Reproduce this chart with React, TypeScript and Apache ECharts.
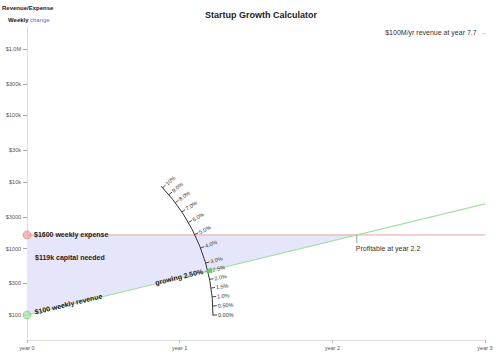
import React, { useEffect, useRef } from 'react';
import * as echarts from 'echarts';

const FONT = '"Liberation Sans", Arial, Helvetica, sans-serif';

// ---- data ----
const yearTicks = [0, 1, 2, 3];
const yearLabels = ['year 0', 'year 1', 'year 2', 'year 3'];
const yTickValues = [100, 300, 1000, 3000, 10000, 30000, 100000, 300000, 1000000];
const yTickLabels = ['$100', '$300', '$1000', '$3000', '$10k', '$30k', '$100k', '$300k', '$1.0M'];
const yRange = [42.1, 2140000];
const weeklyExpense = 1600;
const startRevenue = 100;
const weeklyGrowth = 0.025;
const weeksPerYear = 52;
const revenueLine = [[0, 100], [3, 4700]];
const expenseLine = [[0, 1600], [3, 1600]];
const profitYear = 2.16;
const capitalArea = [[0, 100], [2.16, 1600], [0, 1600]];
const growthRates = [0, 0.005, 0.01, 0.015, 0.02, 0.025, 0.03, 0.04, 0.05, 0.06, 0.07, 0.08, 0.09, 0.1];
const growthLabels = ['0.00%', '0.50%', '1.0%', '1.5%', '2.0%', '2.5%', '3.0%', '4.0%', '5.0%', '6.0%', '7.0%', '8.0%', '9.0%', '10%'];

const lg = (v: number) => Math.log10(v);

function buildOption(): any {
  const yCustom = yTickValues.map(lg);
  return {
    animation: false,
    textStyle: { fontFamily: FONT },
    title: {
      text: 'Startup Growth Calculator',
      left: 200,
      top: 5,
      textStyle: { fontSize: 9, fontWeight: 'bold', color: '#222', fontFamily: FONT },
    },
    grid: { left: 27, right: 15, top: 27, bottom: 16, containLabel: false },
    xAxis: {
      type: 'value',
      min: 0,
      max: 3,
      interval: 1,
      axisLine: { show: true, onZero: false, lineStyle: { color: '#dcdcdc', width: 1 } },
      axisTick: { show: true, length: 3, lineStyle: { color: '#bbb' } },
      splitLine: { show: false },
      axisLabel: {
        fontSize: 5.5,
        color: '#555',
        margin: 5,
        fontFamily: FONT,
        formatter: (v: number) => {
          const i = yearTicks.indexOf(Math.round(v));
          return i >= 0 ? yearLabels[i] : '';
        },
      },
    },
    yAxis: {
      type: 'value',
      min: lg(yRange[0]),
      max: lg(yRange[1]),
      axisLine: { show: true, onZero: false, lineStyle: { color: '#dcdcdc', width: 1 } },
      axisTick: { show: true, length: 4, customValues: yCustom, lineStyle: { color: '#aaa' } },
      splitLine: { show: false },
      axisLabel: {
        fontSize: 5.5,
        color: '#555',
        margin: 6,
        fontFamily: FONT,
        customValues: yCustom,
        formatter: (v: number) => {
          const i = yCustom.findIndex((c) => Math.abs(c - v) < 1e-6);
          return i >= 0 ? yTickLabels[i] : '';
        },
      },
    },
    graphic: [
      {
        type: 'text',
        left: 2,
        top: 5,
        style: { text: 'Revenue/Expense', fontSize: 6, fontWeight: 'bold', fill: '#222', fontFamily: FONT },
      },
      {
        type: 'text',
        left: 8,
        top: 17,
        style: { text: 'Weekly', fontSize: 6, fontWeight: 'bold', fill: '#222', fontFamily: FONT },
      },
      {
        type: 'text',
        left: 30,
        top: 17,
        style: { text: 'change', fontSize: 6, fill: '#6a5fdc', fontFamily: FONT },
      },
      {
        type: 'text',
        right: 13,
        top: 26,
        style: {
          text: '{a|$100M/yr revenue at year 7.7} {b|→}',
          fontFamily: FONT,
          rich: {
            a: { fontSize: 7, fill: '#333', fontFamily: FONT },
            b: { fontSize: 7, fill: '#aaa', fontFamily: FONT },
          },
        },
      },
    ],
    series: [
      {
        type: 'custom',
        name: 'capital',
        z: 1,
        silent: true,
        data: [[0, lg(startRevenue)]],
        renderItem: (_p: any, api: any) => {
          const pts = capitalArea.map((d) => api.coord([d[0], lg(d[1])]));
          return { type: 'polygon', shape: { points: pts }, style: { fill: '#e6e6fb', stroke: 'none' } };
        },
      },
      {
        type: 'line',
        name: 'expense',
        z: 2,
        symbol: 'none',
        data: expenseLine.map((d) => [d[0], lg(d[1])]),
        lineStyle: { color: '#e8a4a4', width: 1 },
      },
      {
        type: 'line',
        name: 'revenue',
        z: 3,
        symbol: 'none',
        data: revenueLine.map((d) => [d[0], lg(d[1])]),
        lineStyle: { color: '#a2e0a2', width: 1.2 },
      },
      {
        type: 'scatter',
        z: 4,
        clip: false,
        symbolSize: 8,
        data: [
          { value: [0, lg(weeklyExpense)], itemStyle: { color: '#f2a9a9', borderColor: '#e07c7c', borderWidth: 0.8 } },
          { value: [0, lg(startRevenue)], itemStyle: { color: '#abe6ab', borderColor: '#76c776', borderWidth: 0.8 } },
        ],
      },
      {
        type: 'custom',
        name: 'annotations',
        z: 5,
        silent: true,
        clip: false,
        data: [[0, lg(startRevenue)]],
        renderItem: (_p: any, api: any) => {
          const c = api.coord([0, lg(startRevenue)]);
          const R = 186;
          const angleOf = (r: number) => {
            const p = api.coord([1, lg(startRevenue) + weeksPerYear * Math.log10(1 + r)]);
            return Math.atan2(c[1] - p[1], p[0] - c[0]);
          };
          const children: any[] = [];
          const aMax = angleOf(growthRates[growthRates.length - 1]);
          children.push({
            type: 'arc',
            shape: { cx: c[0], cy: c[1], r: R, startAngle: -aMax - 0.012, endAngle: 0.004, clockwise: true },
            style: { stroke: '#333', lineWidth: 1, fill: 'none' },
          });
          growthRates.forEach((r, i) => {
            const a = angleOf(r);
            const ux = Math.cos(a);
            const uy = -Math.sin(a);
            children.push({
              type: 'line',
              shape: { x1: c[0] + ux * R, y1: c[1] + uy * R, x2: c[0] + ux * (R + 4), y2: c[1] + uy * (R + 4) },
              style: { stroke: '#333', lineWidth: 0.9 },
            });
            children.push({
              type: 'text',
              x: c[0] + ux * (R + 5),
              y: c[1] + uy * (R + 5),
              rotation: a,
              style: {
                text: growthLabels[i],
                fontSize: 5.5,
                fill: '#333',
                align: 'left',
                verticalAlign: 'middle',
                fontFamily: FONT,
              },
            });
          });
          // handle at current growth
          const ag = angleOf(weeklyGrowth);
          const gx = Math.cos(ag);
          const gy = -Math.sin(ag);
          const px = -gy;
          const py = gx;
          children.push({
            type: 'polygon',
            shape: {
              points: [
                [c[0] + gx * (R - 3), c[1] + gy * (R - 3)],
                [c[0] + gx * (R + 4) + px * 2.6, c[1] + gy * (R + 4) + py * 2.6],
                [c[0] + gx * (R + 4) - px * 2.6, c[1] + gy * (R + 4) - py * 2.6],
              ],
            },
            style: { fill: '#6fcf6f', stroke: '#4fae4f', lineWidth: 0.5 },
          });
          children.push({
            type: 'text',
            x: c[0] + gx * (R - 5),
            y: c[1] + gy * (R - 5) - 1,
            rotation: ag,
            style: {
              text: 'growing ' + (weeklyGrowth * 100).toFixed(2) + '%',
              fontSize: 7,
              fontWeight: 'bold',
              fill: '#222',
              align: 'right',
              verticalAlign: 'middle',
              fontFamily: FONT,
            },
          });
          children.push({
            type: 'text',
            x: c[0] + gx * 8,
            y: c[1] + gy * 8 - 1,
            rotation: ag,
            style: {
              text: '$' + startRevenue + ' weekly revenue',
              fontSize: 7,
              fontWeight: 'bold',
              fill: '#222',
              align: 'left',
              verticalAlign: 'middle',
              fontFamily: FONT,
            },
          });
          const e = api.coord([0, lg(weeklyExpense)]);
          children.push({
            type: 'text',
            x: e[0] + 7,
            y: e[1],
            style: {
              text: '$' + weeklyExpense + ' weekly expense',
              fontSize: 7,
              fontWeight: 'bold',
              fill: '#222',
              align: 'left',
              verticalAlign: 'middle',
              fontFamily: FONT,
            },
          });
          children.push({
            type: 'text',
            x: e[0] + 8,
            y: e[1] + 23,
            style: {
              text: '$119k capital needed',
              fontSize: 7,
              fontWeight: 'bold',
              fill: '#222',
              align: 'left',
              verticalAlign: 'middle',
              fontFamily: FONT,
            },
          });
          const pp = api.coord([profitYear, lg(weeklyExpense)]);
          children.push({
            type: 'line',
            shape: { x1: pp[0], y1: pp[1], x2: pp[0], y2: pp[1] + 8 },
            style: { stroke: '#888', lineWidth: 0.8 },
          });
          children.push({
            type: 'text',
            x: pp[0] - 1,
            y: pp[1] + 14,
            style: {
              text: 'Profitable at year ' + profitYear.toFixed(1),
              fontSize: 7,
              fill: '#333',
              align: 'left',
              verticalAlign: 'middle',
              fontFamily: FONT,
            },
          });
          return { type: 'group', children };
        },
      },
    ],
  };
}

export default function App() {
  const ref = useRef<HTMLDivElement>(null);
  useEffect(() => {
    if (!ref.current) return;
    const chart = echarts.init(ref.current, undefined, { renderer: 'svg' });
    chart.setOption(buildOption());
    return () => chart.dispose();
  }, []);
  return (
    <div
      ref={ref}
      style={{ position: 'absolute', left: 0, top: 0, width: 500, height: 356, background: '#fff' }}
    />
  );
}
